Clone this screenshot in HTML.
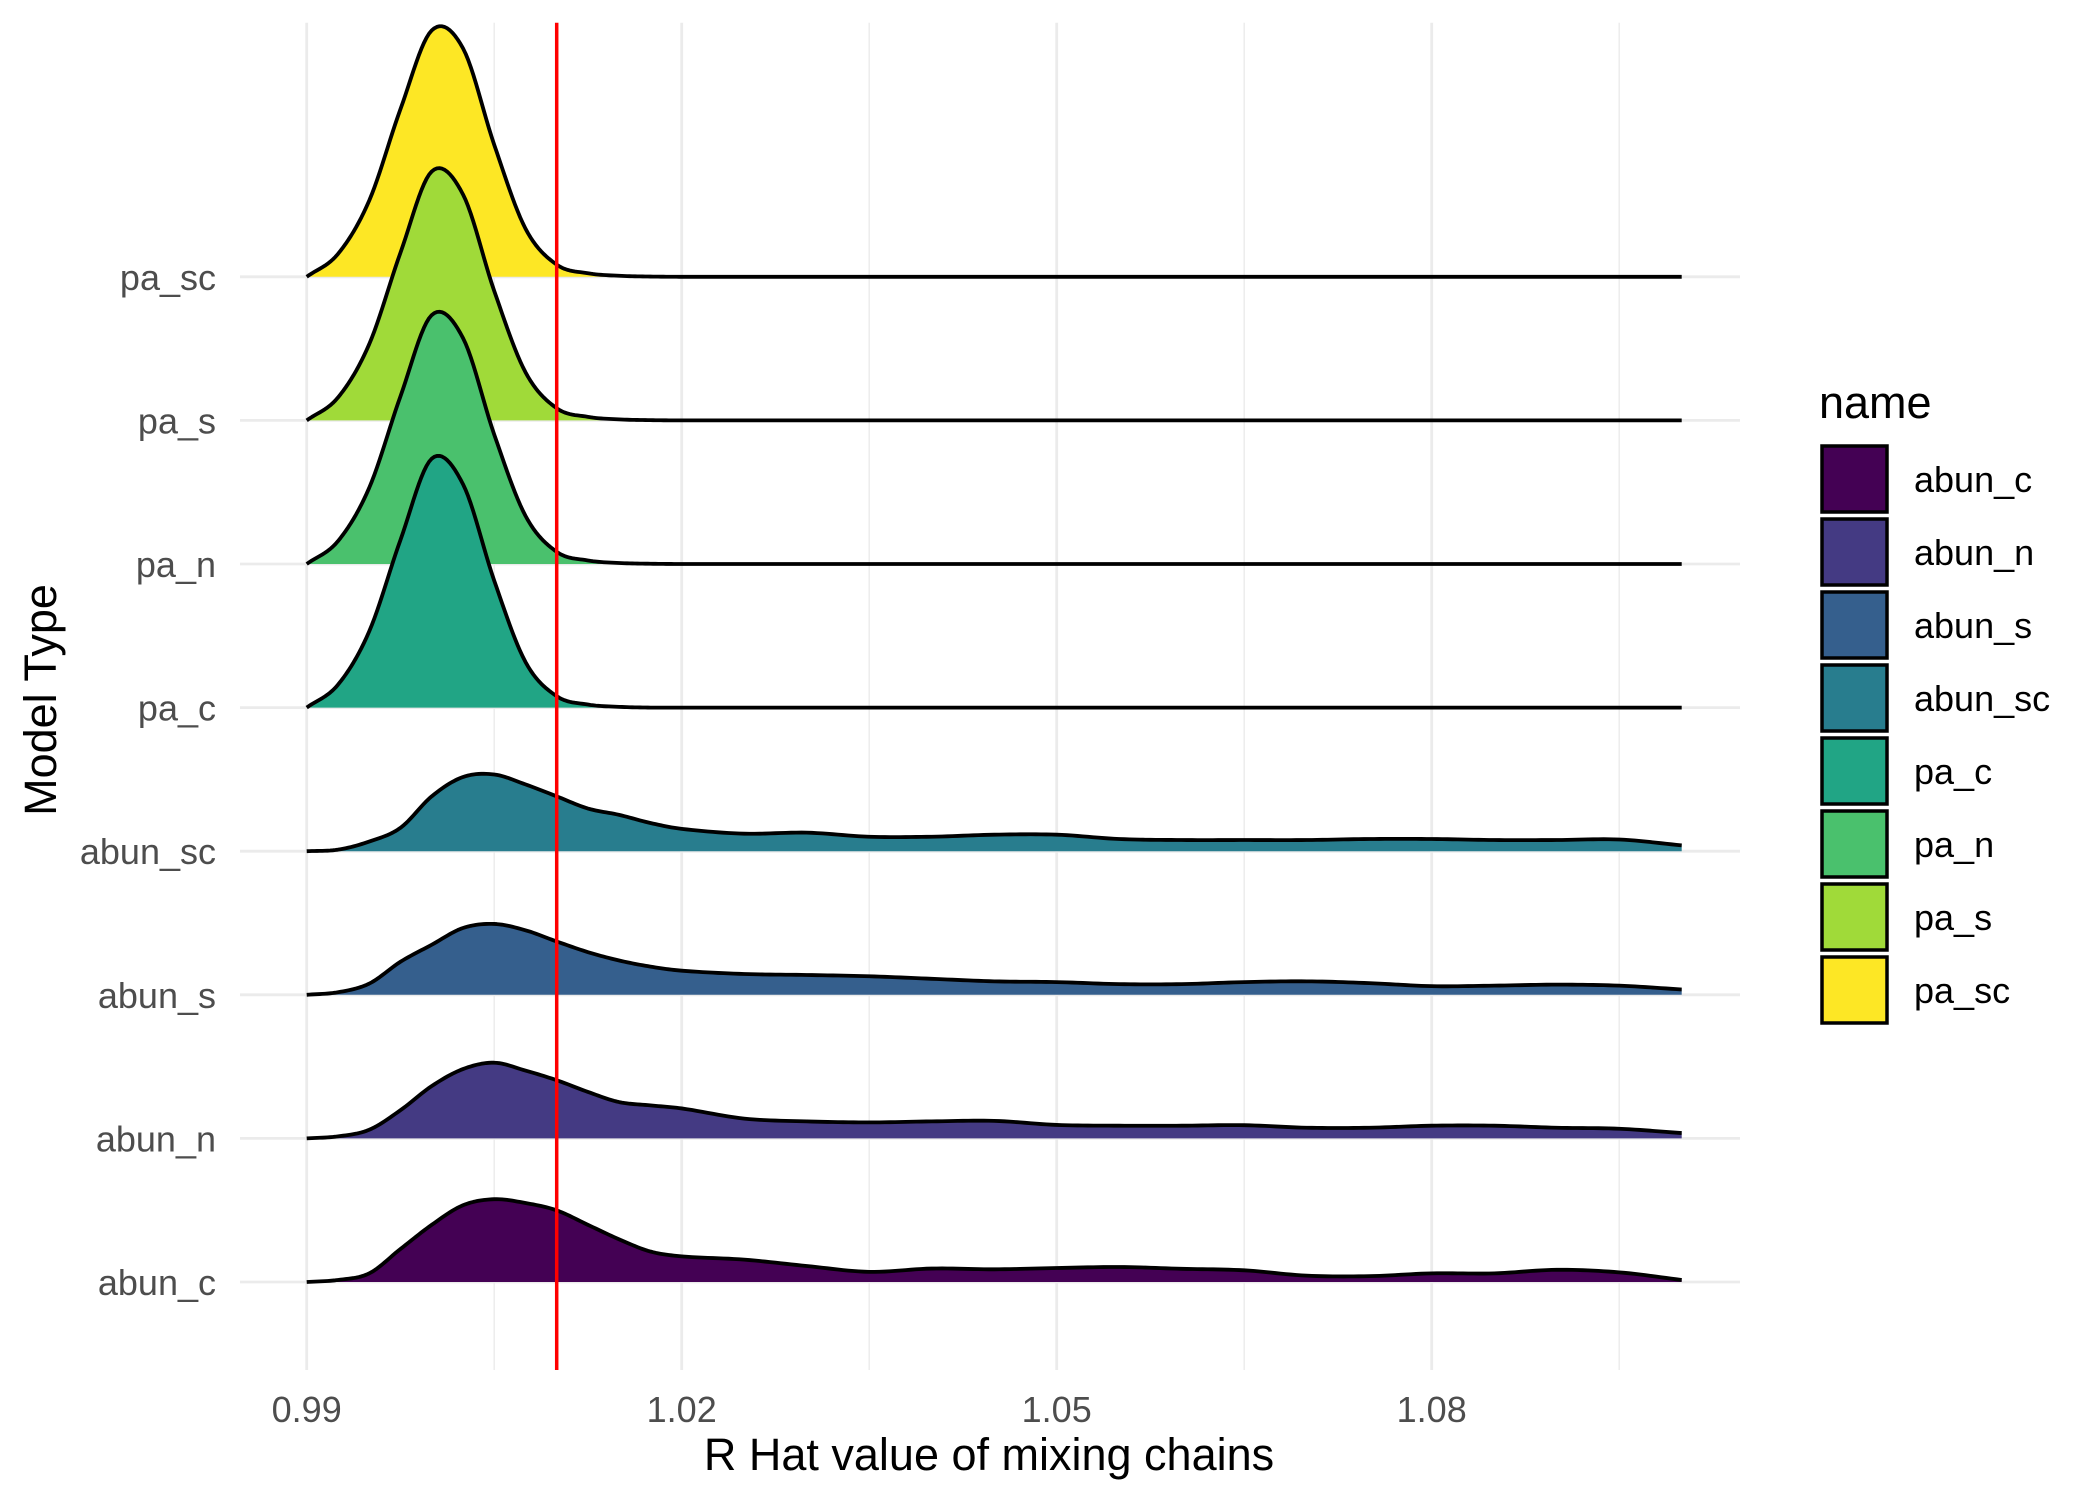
<!DOCTYPE html>
<html><head><meta charset="utf-8"><style>
html,body{margin:0;padding:0;background:#fff;}
svg{display:block;font-family:"Liberation Sans",Arial,sans-serif;}
</style></head><body>
<svg id="chart" width="2100" height="1500" viewBox="0 0 2100 1500"></svg>
<script>
const categories = ["abun_c","abun_n","abun_s","abun_sc","pa_c","pa_n","pa_s","pa_sc"];
const colors = ["#440154","#443A83","#355F8D","#287D8E","#21A585","#4AC16D","#A0DA39","#FDE725"];
const xGrid = [0.99,0.9925,0.995,0.9975,1.0,1.0025,1.005,1.0075,1.01,1.0125,1.015,1.0175,1.02,1.025,1.03,1.035,1.04,1.045,1.05,1.055,1.06,1.065,1.07,1.075,1.08,1.085,1.09,1.095,1.10];
const abunC = [0,0.008,0.034,0.130,0.225,0.302,0.326,0.311,0.282,0.225,0.168,0.120,0.101,0.088,0.063,0.040,0.053,0.050,0.055,0.059,0.052,0.046,0.025,0.023,0.034,0.034,0.048,0.038,0.008];
const abunN = [0,0.008,0.034,0.111,0.206,0.273,0.298,0.267,0.229,0.183,0.143,0.130,0.118,0.078,0.067,0.063,0.067,0.069,0.053,0.050,0.050,0.052,0.042,0.042,0.050,0.050,0.042,0.038,0.021];
const abunS = [0,0.010,0.044,0.130,0.197,0.263,0.279,0.254,0.210,0.168,0.135,0.111,0.095,0.082,0.078,0.073,0.063,0.053,0.050,0.042,0.042,0.050,0.053,0.046,0.034,0.036,0.040,0.036,0.021];
const abunSC = [0,0.006,0.038,0.092,0.216,0.292,0.302,0.263,0.216,0.168,0.143,0.111,0.088,0.069,0.073,0.057,0.057,0.065,0.065,0.048,0.044,0.044,0.044,0.048,0.048,0.044,0.044,0.046,0.023];
const paC = [0,0.09,0.30,0.66,0.98,0.88,0.50,0.18,0.045,0.012,0.003,0,0,0,0,0,0,0,0,0,0,0,0,0,0,0,0,0,0];
const paN = [0,0.09,0.30,0.66,0.98,0.89,0.51,0.19,0.048,0.014,0.004,0.001,0,0,0,0,0,0,0,0,0,0,0,0,0,0,0,0,0];
const paS = [0,0.09,0.30,0.66,0.98,0.89,0.51,0.19,0.048,0.014,0.004,0.001,0,0,0,0,0,0,0,0,0,0,0,0,0,0,0,0,0];
const paSC = [0,0.09,0.30,0.66,0.97,0.90,0.52,0.19,0.048,0.014,0.004,0.001,0,0,0,0,0,0,0,0,0,0,0,0,0,0,0,0,0];
const seriesValues = [abunC,abunN,abunS,abunSC,paC,paN,paS,paSC];
const xTicks = [0.99,1.02,1.05,1.08];
const xTickLabels = ["0.99","1.02","1.05","1.08"];
const xMinor = [1.005,1.035,1.065,1.095];
const refLine = 1.01;

const NS="http://www.w3.org/2000/svg";
const svg=document.getElementById("chart");
const X0=306.7, PXU=12500;
const xs=v=>X0+(v-0.99)*PXU;
const baseBottom=1282, step=143.6, HSCALE=254;
const yBase=i=>baseBottom-i*step;
const ys=(i,d)=>yBase(i)-d*HSCALE;
const panelTop=22.7, panelBottom=1370, panelLeft=240, panelRight=1740;
function mk(tag,attrs,parent){const e=document.createElementNS(NS,tag);for(const k in attrs)e.setAttribute(k,attrs[k]);(parent||svg).appendChild(e);return e;}

const grid=mk("g",{});


xMinor.forEach(v=>{const l=mk("line",{x1:xs(v),x2:xs(v),y1:panelTop,y2:panelBottom,stroke:"#EBEBEB","stroke-width":1.4},grid);

});
xTicks.forEach(v=>{const l=mk("line",{x1:xs(v),x2:xs(v),y1:panelTop,y2:panelBottom,stroke:"#EBEBEB","stroke-width":2.8},grid);

});
categories.forEach((c,i)=>{const l=mk("line",{x1:panelLeft,x2:panelRight,y1:yBase(i),y2:yBase(i),stroke:"#EBEBEB","stroke-width":2.8},grid);

});

function curvePath(i,vals){
  const pts=xGrid.map((x,k)=>[xs(x),vals[k]]);
  let d="M"+pts[0][0]+","+ys(i,pts[0][1]);
  for(let k=0;k<pts.length-1;k++){
    const p0=pts[Math.max(0,k-1)],p1=pts[k],p2=pts[k+1],p3=pts[Math.min(pts.length-1,k+2)];
    const n=12;
    for(let s=1;s<=n;s++){
      const t=s/n;
      const h=p2[0]-p1[0];
      const m1=(p2[1]-p0[1])/(p2[0]-p0[0]||1)*h;
      const m2=(p3[1]-p1[1])/(p3[0]-p1[0]||1)*h;
      const t2=t*t,t3=t2*t;
      let y=(2*t3-3*t2+1)*p1[1]+(t3-2*t2+t)*m1+(-2*t3+3*t2)*p2[1]+(t3-t2)*m2;
      if(y<0)y=0;
      d+=" L"+(p1[0]+t*h).toFixed(2)+","+ys(i,y).toFixed(2);
    }
  }
  return d;
}
for(let i=categories.length-1;i>=0;i--){
  const g=mk("g",{});
  
  
  const line=curvePath(i,seriesValues[i]);
  const fill=line+" L"+xs(xGrid[xGrid.length-1])+","+yBase(i)+" L"+xs(xGrid[0])+","+yBase(i)+" Z";
  const f=mk("path",{d:fill,fill:colors[i],stroke:"none"},g);
  
  
  const l=mk("path",{d:line,fill:"none",stroke:"#000","stroke-width":3.8,"stroke-linejoin":"round"},g);
  
  
}
const rl=mk("line",{x1:xs(refLine),x2:xs(refLine),y1:panelTop,y2:panelBottom,stroke:"#FF0000","stroke-width":3.5});



categories.forEach((c,i)=>{const t=mk("text",{x:216,y:yBase(i)+13,"text-anchor":"end","font-size":36,fill:"#4D4D4D"});t.textContent=c;

});
xTicks.forEach((v,k)=>{const t=mk("text",{x:xs(v),y:1422,"text-anchor":"middle","font-size":36,fill:"#4D4D4D"});t.textContent=xTickLabels[k];

});
const xt=mk("text",{x:989,y:1470,"text-anchor":"middle","font-size":45,fill:"#000"});xt.textContent="R Hat value of mixing chains";


const yt=mk("text",{x:0,y:0,"text-anchor":"middle","font-size":45,fill:"#000",transform:"translate(56,700) rotate(-90)"});yt.textContent="Model Type";



const lg=mk("g",{});


const lt=mk("text",{x:1819,y:418,"font-size":45,fill:"#000"},lg);lt.textContent="name";


categories.forEach((c,i)=>{
  const y=444+i*73;
  const r=mk("rect",{x:1822,y:y+2,width:65,height:66,fill:colors[i],stroke:"#000","stroke-width":3.5},lg);
  
  
  const t=mk("text",{x:1914,y:y+48,"font-size":36,fill:"#000"},lg);t.textContent=c;
  
  
});
</script>
</body></html>
